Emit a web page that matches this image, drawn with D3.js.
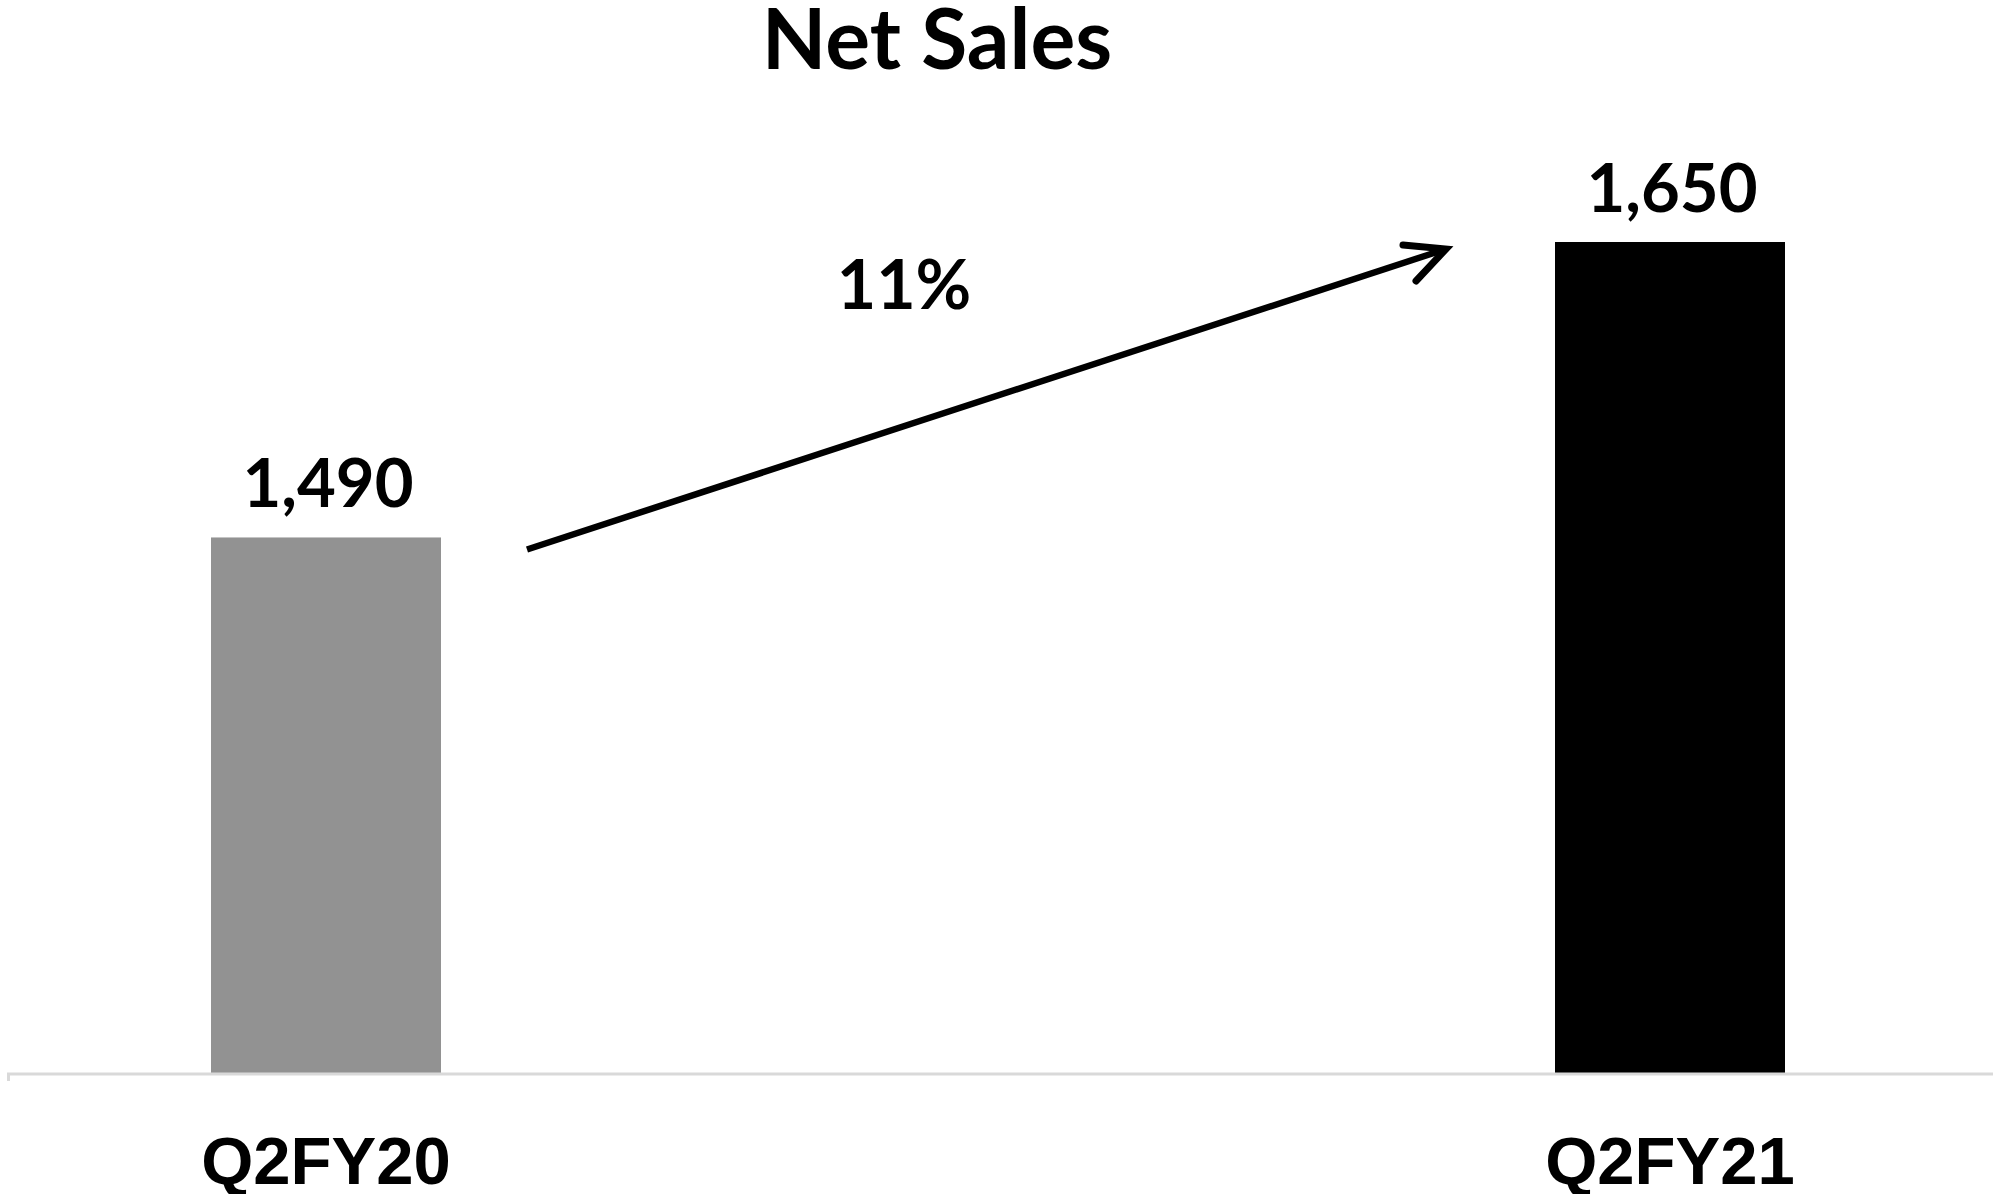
<!DOCTYPE html>
<html>
<head>
<meta charset="utf-8">
<script src="https://cdn.jsdelivr.net/npm/d3@7"></script>
<style>
  body { margin: 0; background: #fff; }
  svg { display: block; }
</style>
</head>
<body>
<div id="chart"></div>
<script>
// chart data
var categories = ["Q2FY20", "Q2FY21"];
var netSales = [1490, 1650];
var valueLabels = ["1,490", "1,650"];
var growthLabel = "11%";
var barColors = ["#929292", "#000000"];

var width = 1993, height = 1194,
    baseY = 1073, barW = 230;

var svg = d3.select("#chart")
  .append("svg")
  .attr("width", width)
  .attr("height", height);

var x = d3.scalePoint()
  .domain(categories)
  .range([326, 1670]);

var y = d3.scaleLinear()
  .domain([1200, 1650])
  .range([baseY, 242]);

// title
svg.append("text")
  .attr("x", 937)
  .attr("y", 69)
  .attr("text-anchor", "middle")
  .style("font-family", "Lato, 'Open Sans', sans-serif")
  .style("font-weight", "700")
  .style("font-size", "84px")
  .text("Net Sales");

// bars
svg.selectAll(".bar")
  .data(netSales)
  .enter()
  .append("rect")
  .attr("class", "bar")
  .attr("x", function(d, i) { return x(categories[i]) - barW / 2; })
  .attr("y", function(d) { return y(d); })
  .attr("width", barW)
  .attr("height", function(d) { return baseY - y(d); })
  .style("fill", function(d, i) { return barColors[i]; });

// value labels
svg.selectAll(".val")
  .data(netSales)
  .enter()
  .append("text")
  .attr("class", "val")
  .attr("x", function(d, i) { return x(categories[i]) + 2; })
  .attr("y", function(d) { return y(d) - 30; })
  .attr("text-anchor", "middle")
  .style("font-family", "Lato, 'Open Sans', sans-serif")
  .style("font-weight", "700")
  .style("font-size", "67px")
  .text(function(d, i) { return valueLabels[i]; });

// baseline axis
svg.append("line")
  .attr("x1", 7).attr("x2", width)
  .attr("y1", baseY + 1).attr("y2", baseY + 1)
  .attr("stroke", "#d9d9d9")
  .attr("stroke-width", 3);
svg.append("line")
  .attr("x1", 8.5).attr("x2", 8.5)
  .attr("y1", baseY).attr("y2", baseY + 8)
  .attr("stroke", "#d9d9d9")
  .attr("stroke-width", 3);

// category labels
svg.selectAll(".cat")
  .data(categories)
  .enter()
  .append("text")
  .attr("class", "cat")
  .attr("x", function(d) { return x(d); })
  .attr("y", 1184)
  .attr("text-anchor", "middle")
  .style("font-family", "'Liberation Sans', Arial, sans-serif")
  .style("font-weight", "700")
  .style("font-size", "67px")
  .text(function(d) { return d; });

// growth arrow
var x0 = x(categories[0]) + barW / 2 + 86, y0 = y(netSales[0]) + 12,
    x1 = x(categories[1]) - barW / 2 - 109, y1 = y(netSales[1]) + 7;

svg.append("line")
  .attr("x1", x0).attr("y1", y0)
  .attr("x2", x1 - 6).attr("y2", y1 + 2)
  .attr("stroke", "#000")
  .attr("stroke-width", 6.5);

svg.append("path")
  .attr("d", "M" + (x1 - 43) + "," + (y1 - 4) + " L" + x1 + "," + y1 + " L" + (x1 - 30) + "," + (y1 + 32))
  .attr("fill", "none")
  .attr("stroke", "#000")
  .attr("stroke-width", 7)
  .attr("stroke-linecap", "round")
  .attr("stroke-linejoin", "miter");

svg.append("text")
  .attr("x", 904)
  .attr("y", 309)
  .attr("text-anchor", "middle")
  .style("font-family", "Lato, 'Open Sans', sans-serif")
  .style("font-weight", "700")
  .style("font-size", "68px")
  .text(growthLabel);
</script>
</body>
</html>
